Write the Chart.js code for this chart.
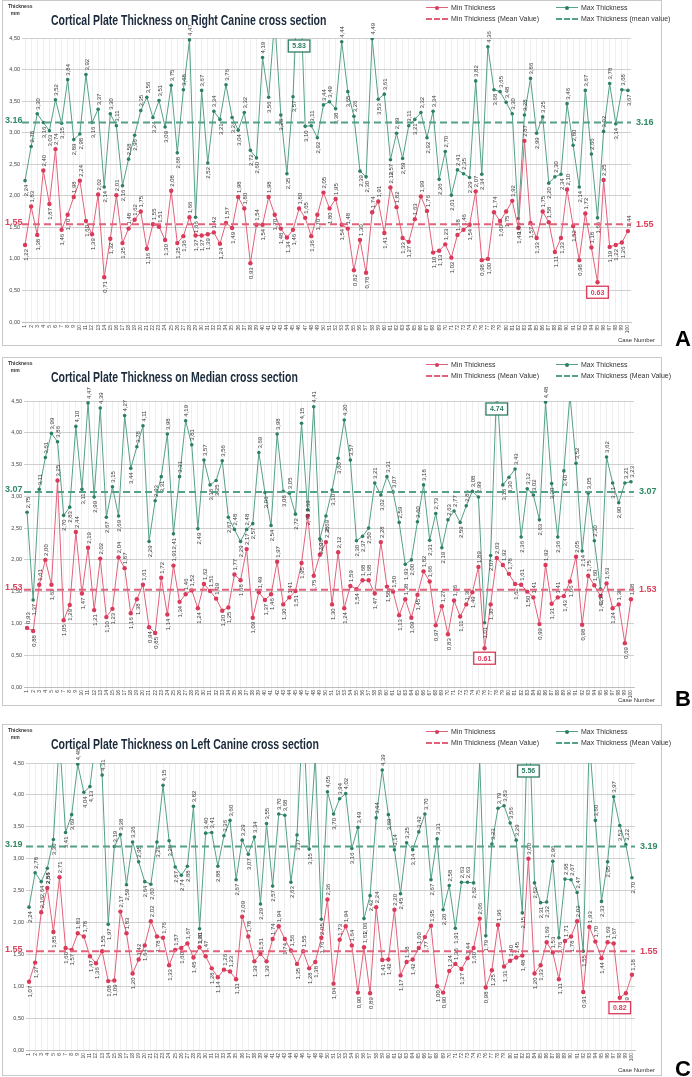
<!DOCTYPE html>
<html>
<head>
<meta charset="utf-8">
<script src="https://cdn.jsdelivr.net/npm/chart.js@4.4.1/dist/chart.umd.min.js"></script>
<style>
body { margin: 0; background: #fff; font-family: "Liberation Sans", Arial, sans-serif; }
.panel { position: absolute; left: 2px; width: 660px; border: 1px solid #c9c9c9; box-sizing: border-box; background: #fff; }
.panel canvas { position: absolute; left: 0; top: 0; }
.title { position: absolute; left: 48px; top: 11px; font: bold 14px "Liberation Sans", sans-serif; color: #1c2b3c;
         white-space: nowrap; transform: scaleX(0.75); transform-origin: 0 0; }
.ytitle { position: absolute; left: 5px; top: 2px; font: bold 5px "Liberation Sans", sans-serif; color: #333; line-height: 7px; }
.xtitle { position: absolute; right: 6px; bottom: 2px; font: 6px "Liberation Sans", sans-serif; color: #333; }
.legend { position: absolute; left: 423px; top: 3px; width: 240px; font: 7px "Liberation Sans", sans-serif; color: #333; }
.legend div { position: absolute; white-space: nowrap; display: flex; align-items: center; }
.sw { position: relative; display: inline-block; width: 22px; height: 0; margin-right: 3px; }
.sw i { position: absolute; left: 9px; top: -2px; width: 4px; height: 4px; border-radius: 50%; }
.letter { position: absolute; left: 675px; font: bold 22px "Liberation Sans", Arial, sans-serif; color: #000; }
</style>
</head>
<body>
<div id="root"></div>
<script>
// ============ DATA ============
const CASES = Array.from({ length: 100 }, (_, i) => String(i + 1));
const Y_TICKS = [0, 0.5, 1, 1.5, 2, 2.5, 3, 3.5, 4, 4.5];

// A : Right Canine
const A_MIN = [1.22,1.83,1.38,2.40,1.87,2.74,1.46,1.70,1.98,2.24, 1.60,1.39,2.02,0.71,1.32,2.01,1.25,1.48,1.62,1.75,
  1.16,1.55,1.51,1.30,2.08,1.25,1.36,1.66,1.37,1.37, 1.39,1.42,1.24,1.57,1.49,1.98,1.80,0.93,1.54,1.54,
  1.98,1.70,1.48,1.34,1.46,1.80,1.65,1.36,1.70,2.05, 1.80,1.95,1.54,1.48,0.82,1.30,0.78,1.74,1.91,1.41,
  2.13,1.82,1.33,1.27,1.63,1.99,1.76,1.10,1.13,1.23, 1.02,1.38,1.46,1.54,2.07,0.98,1.00,1.74,1.60,1.75,
  1.92,1.49,2.87,1.57,1.33,1.75,1.58,1.11,1.33,2.10, 1.52,0.98,1.72,1.18,0.63,2.25,1.19,1.22,1.26,1.44];
const A_MAX = [2.24,2.78,3.30,3.16,3.03,3.52,3.15,3.84,2.89,2.98, 3.92,3.16,3.37,2.14,3.30,3.11,2.16,2.58,2.96,3.35,
  3.56,3.24,3.51,3.09,3.75,2.68,3.68,4.47,1.66,3.67, 2.52,3.34,3.21,3.76,3.24,3.04,3.32,2.72,2.60,4.19,
  3.56,4.80,3.28,2.35,3.57,5.83,3.10,3.11,2.92,3.44, 3.49,3.38,4.44,3.65,3.26,2.39,2.30,4.49,3.53,3.61,
  2.57,2.99,2.59,3.11,3.21,3.32,2.92,3.34,2.26,2.70, 2.01,2.41,2.35,2.29,3.82,2.34,4.36,3.68,3.65,3.48,
  3.30,1.64,3.28,3.86,2.99,3.25,2.20,2.30,2.34,3.46, 2.80,2.14,3.67,2.66,1.65,3.02,3.78,3.14,3.68,3.67];
const A_MEAN = [1.55, 3.16];

// B : Median
const B_MIN = [0.93,0.88,1.61,2.00,1.61,3.25,1.05,1.29,2.44,1.47, 2.19,1.21,2.02,1.10,1.23,2.04,1.87,1.16,1.38,1.61,
  0.94,0.85,1.72,1.14,1.91,1.34,1.46,1.52,1.24,1.62, 1.51,1.39,1.20,1.25,1.77,1.68,2.17,1.09,1.49,1.37,
  1.46,1.97,1.30,1.41,1.51,1.95,2.69,1.75,2.08,2.28, 1.30,2.12,1.24,1.59,1.54,1.68,1.68,1.47,2.28,1.58,
  1.50,1.13,1.38,1.09,1.45,1.82,1.66,0.97,1.27,0.83, 1.36,1.11,1.30,1.49,1.89,0.61,1.30,2.03,1.92,1.78,
  1.62,1.61,1.50,1.41,0.99,1.92,1.31,1.41,1.43,1.66, 2.05,0.98,1.75,1.60,1.43,1.63,1.24,1.30,0.69,1.38];
const B_MAX = [2.75,1.37,3.11,3.61,3.99,3.86,2.70,2.83,4.10,3.11, 4.47,2.99,4.39,2.67,3.15,2.69,4.27,3.44,3.78,4.11,
  2.29,2.93,3.31,3.98,2.41,3.31,4.19,3.81,2.49,3.57, 3.18,3.25,3.56,2.67,2.48,2.29,2.48,2.57,3.69,3.06,
  2.54,3.98,3.08,3.05,2.72,4.15,2.79,4.41,2.33,2.69, 3.10,3.60,4.20,3.57,2.30,2.37,2.50,3.21,3.02,3.31,
  3.07,2.59,1.93,2.00,2.60,3.18,2.31,2.73,2.19,2.63, 2.77,2.59,2.85,3.08,2.99,1.01,2.07,4.74,3.18,3.30,
  3.43,2.36,3.12,3.02,2.63,4.48,3.20,2.36,3.40,4.60, 3.52,2.14,3.05,2.30,1.54,3.62,3.21,2.90,3.21,3.23];
const B_MEAN = [1.53, 3.07];

// C : Left Canine
const C_MIN = [1.07,1.37,2.16,2.54,1.85,2.71,1.60,1.57,1.83,1.78, 1.47,1.36,1.55,1.08,1.09,2.17,1.83,1.20,1.42,1.64,
  2.02,1.78,1.76,1.33,1.57,1.60,1.67,1.45,1.61,1.47, 1.28,1.14,1.26,1.23,1.11,2.09,1.78,1.39,1.51,1.39,
  1.74,1.94,1.74,1.56,1.35,1.55,1.28,1.38,1.76,2.36, 1.04,1.73,1.94,1.64,0.90,1.61,0.89,2.24,1.41,1.42,
  2.20,1.17,1.38,1.42,1.60,1.77,1.95,1.00,0.90,1.24, 1.35,1.27,1.44,1.60,2.06,0.98,1.25,1.96,1.31,1.40,
  1.45,1.48,3.00,1.20,1.33,1.69,1.53,1.11,1.71,1.78, 2.02,0.91,1.93,1.70,1.44,1.69,1.67,0.82,0.89,1.18];
const C_MAX = [2.24,2.78,2.64,2.85,3.30,4.90,3.41,3.69,4.48,4.04, 4.13,4.90,4.31,1.97,3.19,3.38,2.59,3.26,2.95,2.64,
  2.60,3.26,4.15,3.28,2.87,2.74,2.88,3.82,1.90,3.40, 3.41,2.88,3.36,3.60,2.67,3.29,3.07,3.34,2.29,3.55,
  2.57,3.70,3.68,2.63,3.37,5.30,3.15,4.61,2.05,4.05, 3.70,3.94,4.02,3.16,3.49,2.06,2.42,3.64,4.39,3.69,
  3.14,2.45,3.25,3.14,3.42,3.70,2.67,3.31,2.20,2.58, 1.91,2.63,2.63,2.62,4.53,1.79,3.23,3.79,3.83,3.56,
  3.29,2.15,5.56,2.62,2.31,2.32,2.96,1.76,2.68,2.67, 2.47,1.55,4.87,3.60,2.33,2.95,3.97,3.52,3.22,2.70];
const C_MEAN = [1.55, 3.19];

// ============ STYLE ============
const RED = '#e2617a', RED_PT = '#d93a5a';
const GREEN = '#55a088', GREEN_PT = '#2c7f62';
const RED_TXT = '#d9435e', GREEN_TXT = '#2f8a63';

const PANELS = [
  { title: 'Cortical Plate Thickness on Right Canine cross section', letter: 'A', top: 0, height: 346,
    area: { left: 19, right: 30, top: 37, bottom: 7 }, min: A_MIN, max: A_MAX, mean: A_MEAN,
    legend: ['Min Thickness', 'Max Thickness', 'Min Thickness (Mean Value)', 'Max Thickness (mean value)'] },
  { title: 'Cortical Plate Thickness on Median cross section', letter: 'B', top: 357, height: 349,
    area: { left: 21, right: 27, top: 43, bottom: 2 }, min: B_MIN, max: B_MAX, mean: B_MEAN,
    legend: ['Min Thickness', 'Max Thickness', 'Min Thickness (Mean Value)', 'Max Thickness (Mean Value)'] },
  { title: 'Cortical Plate Thickness on Left Canine cross section', letter: 'C', top: 724, height: 352,
    area: { left: 23, right: 26, top: 38, bottom: 9 }, min: C_MIN, max: C_MAX, mean: C_MEAN,
    legend: ['Min Thickness', 'Max Thickness', 'Min Thickness (Mean Value)', 'Max Thickness (Mean Value)'] }
];

const comma = v => v.toFixed(2).replace('.', ',');

// labels, mean lines, boxes
const overlay = {
  id: 'overlay',
  afterDatasetsDraw(chart) {
    const { ctx, chartArea: a, scales: { x, y } } = chart;
    const p = chart.options.plugins.overlay;
    ctx.save();
    // value labels
    chart.data.datasets.forEach(ds => {
      const vals = ds.data;
      ctx.fillStyle = '#3a3a3a';
      ctx.font = '6px "Liberation Sans", sans-serif';
      ctx.textBaseline = 'middle';
      vals.forEach((v, i) => {
        if (v > 4.5) return;
        const prev = i > 0 ? vals[i - 1] : v, next = i < vals.length - 1 ? vals[i + 1] : v;
        const up = v >= (prev + next) / 2;
        const px = x.getPixelForValue(i), py = y.getPixelForValue(v);
        ctx.save();
        ctx.translate(px + 1, up ? py - 4 : py + 4);
        ctx.rotate(-Math.PI / 2);
        ctx.textAlign = up ? 'left' : 'right';
        ctx.fillText(comma(v), 0, 0);
        ctx.restore();
      });
    });
    // mean lines
    [[p.mean[0], RED, RED_TXT], [p.mean[1], GREEN, GREEN_TXT]].forEach(([m, c, tc]) => {
      const py = y.getPixelForValue(m);
      ctx.strokeStyle = c; ctx.lineWidth = 2; ctx.setLineDash([7, 4]);
      ctx.beginPath(); ctx.moveTo(a.left, py); ctx.lineTo(a.right, py); ctx.stroke();
      ctx.setLineDash([]);
      ctx.fillStyle = tc; ctx.font = 'bold 9px "Liberation Sans", sans-serif';
      ctx.textAlign = 'left'; ctx.textBaseline = 'middle';
      ctx.fillText(m.toFixed(2), 2, py - 2);
      ctx.fillText(m.toFixed(2), a.right + 5, py);
    });
    // extreme value boxes
    const maxV = Math.max(...p.max), minV = Math.min(...p.min);
    const box = (txt, cx, top, col) => {
      ctx.font = 'bold 7px "Liberation Sans", sans-serif';
      const w = ctx.measureText(txt).width + 8, h = 12;
      ctx.fillStyle = '#fff'; ctx.fillRect(cx - w / 2, top, w, h);
      ctx.strokeStyle = col; ctx.lineWidth = 1.3; ctx.strokeRect(cx - w / 2, top, w, h);
      ctx.fillStyle = col; ctx.textAlign = 'center'; ctx.textBaseline = 'middle';
      ctx.fillText(txt, cx, top + h / 2 + 0.5);
    };
    box(maxV.toFixed(2), x.getPixelForValue(p.max.indexOf(maxV)), a.top + 2, GREEN_PT);
    box(minV.toFixed(2), x.getPixelForValue(p.min.indexOf(minV)), y.getPixelForValue(minV) + 4, RED_PT);
    ctx.restore();
  }
};

const root = document.getElementById('root');
PANELS.forEach(P => {
  const div = document.createElement('div');
  div.className = 'panel';
  div.style.top = P.top + 'px';
  div.style.height = P.height + 'px';
  root.appendChild(div);

  const cv = document.createElement('canvas');
  cv.width = 658; cv.height = P.height - 2;
  cv.style.width = '658px'; cv.style.height = (P.height - 2) + 'px';
  div.appendChild(cv);

  div.insertAdjacentHTML('beforeend',
    `<div class="title">${P.title}</div>
     <div class="ytitle">Thickness<br>&nbsp;&nbsp;mm</div>
     <div class="xtitle">Case Number</div>`);

  // legend
  const items = [
    { t: P.legend[0], c: RED, pt: RED_PT, dash: false, x: 0, y: 0 },
    { t: P.legend[1], c: GREEN, pt: GREEN_PT, dash: false, x: 130, y: 0 },
    { t: P.legend[2], c: RED, dash: true, x: 0, y: 11 },
    { t: P.legend[3], c: GREEN, dash: true, x: 130, y: 11 }
  ];
  const lg = document.createElement('div');
  lg.className = 'legend';
  lg.innerHTML = items.map(it =>
    `<div style="left:${it.x}px;top:${it.y}px"><span class="sw" style="border-top:${it.dash ? 2 : 1}px ${it.dash ? 'dashed' : 'solid'} ${it.c}">` +
    (it.pt ? `<i style="background:${it.pt}"></i>` : '') + `</span>${it.t}</div>`).join('');
  div.appendChild(lg);

  const letter = document.createElement('div');
  letter.className = 'letter';
  letter.textContent = P.letter;
  letter.style.top = (P.top + P.height - 20) + 'px';
  root.appendChild(letter);

  new Chart(cv.getContext('2d'), {
    type: 'line',
    data: {
      labels: CASES,
      datasets: [
        { label: 'Min Thickness', data: P.min, borderColor: RED, backgroundColor: RED_PT, pointBackgroundColor: RED_PT,
          pointBorderWidth: 0, pointRadius: 2.2, borderWidth: 1, tension: 0 },
        { label: 'Max Thickness', data: P.max, borderColor: GREEN, backgroundColor: GREEN_PT, pointBackgroundColor: GREEN_PT,
          pointBorderWidth: 0, pointRadius: 1.8, borderWidth: 1, tension: 0 }
      ]
    },
    options: {
      responsive: false,
      animation: false,
      layout: { padding: { left: 0, right: P.area.right, top: P.area.top, bottom: P.area.bottom } },
      plugins: {
        legend: { display: false },
        tooltip: { enabled: false },
        overlay: { mean: P.mean, min: P.min, max: P.max }
      },
      scales: {
        x: {
          type: 'category',
          offset: true,
          afterFit: s => { s.height = 16; },
          grid: { color: '#e4e4e4', lineWidth: 0.6, offset: false, drawTicks: true, tickLength: 3 },
          border: { color: '#bdbdbd' },
          ticks: { autoSkip: false, minRotation: 90, maxRotation: 90, padding: 0, color: '#444',
                   font: { size: 5, family: 'Liberation Sans' } }
        },
        y: {
          min: 0, max: 4.5,
          afterFit: s => { s.width = P.area.left; },
          afterBuildTicks: s => { s.ticks = Y_TICKS.map(v => ({ value: v })); },
          grid: { color: '#c4c4c4', lineWidth: 0.8, drawTicks: false },
          border: { display: false },
          ticks: { padding: 2, color: '#444', font: { size: 5.5, family: 'Liberation Sans' },
                   callback: v => comma(v) }
        }
      }
    },
    plugins: [overlay]
  });
});
</script>
</body>
</html>
